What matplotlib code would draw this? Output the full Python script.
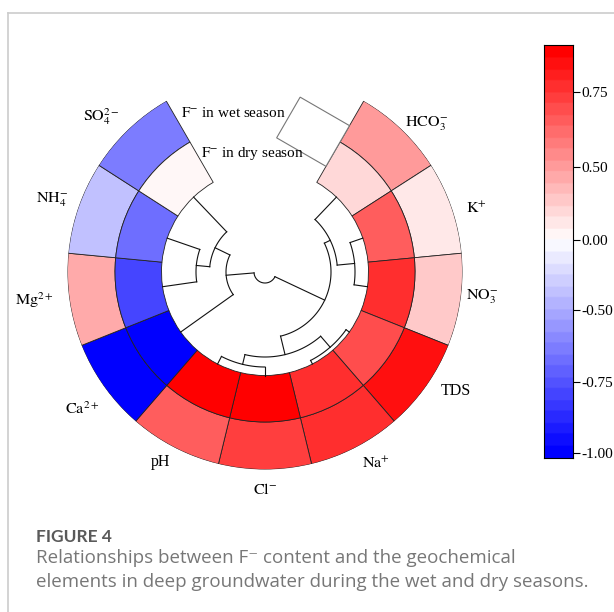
import numpy as np
import matplotlib
matplotlib.use("Agg")
import matplotlib.pyplot as plt
from matplotlib.colors import LinearSegmentedColormap
from matplotlib.patches import Polygon
from matplotlib.lines import Line2D

plt.rcParams['font.family'] = 'Liberation Serif'
plt.rcParams['mathtext.fontset'] = 'stix'

# variables clockwise from the gap at the top
labels = [r'$\mathrm{HCO_3^{-}}$', r'$\mathrm{K^{+}}$', r'$\mathrm{NO_3^{-}}$', 'TDS',
          r'$\mathrm{Na^{+}}$', r'$\mathrm{Cl^{-}}$', 'pH', r'$\mathrm{Ca^{2+}}$',
          r'$\mathrm{Mg^{2+}}$', r'$\mathrm{NH_4^{-}}$', r'$\mathrm{SO_4^{2-}}$']
# correlation with F- (outer ring = wet season, inner ring = dry season)
wet = [0.49, 0.12, 0.29, 0.83, 0.78, 0.73, 0.64, -1.00, 0.40, -0.36, -0.63]
dry = [0.21, 0.65, 0.79, 0.71, 0.78, 0.90, 0.89, -0.98, -0.81, -0.67, 0.00]

# dendrogram merges: (child a, child b, distance); leaves 0..10, new nodes 11..
merges = [(3, 4, 4.0), (5, 6, 8.5), (11, 12, 18.5), (1, 2, 13.5), (0, 14, 31.0),
          (15, 13, 37.5), (9, 8, 34.5), (10, 17, 48.0), (7, 18, 64.5), (19, 16, 92.5)]

# colorbar: tick values and where they sit along the bar (0 = bottom, 1 = top)
cb_ticks = [-1.00, -0.75, -0.50, 0.00, 0.50, 0.75]
cb_vals = [-1.02, -1.00, -0.75, -0.50, 0.00, 0.50, 0.75, 0.905]
cb_pos = [0.0, 0.012, 0.185, 0.358, 0.528, 0.705, 0.887, 1.0]

# where the labels sit (angle clockwise from top, radius in px)
lab_theta = [47.6, 73.5, 96.5, 122.0, 150.0, 180.0, 208.9, 233.0, 263.0, 288.7, 313.6]
lab_r = [219, 221, 219, 225, 222, 218, 217, 229, 232, 225, 226]


def pos(v):
    return np.interp(v, cb_vals, cb_pos)


p0 = float(pos(0.0))
cmap = LinearSegmentedColormap.from_list('bwr_o', [(0, '#0000ff'), (p0, '#ffffff'), (1, '#ff0000')])
cmap = cmap.resampled(36)

fig = plt.figure(figsize=(6.14, 6.12), dpi=100)

# center of the ring at (265, 272) px, outer radius 197.5 px
R_OUT, R_MID, R_IN = 197.5, 150.0, 103.5
ax = fig.add_axes([(265 - R_OUT) / 614, (612 - 272 - R_OUT) / 612, 2 * R_OUT / 614, 2 * R_OUT / 612],
                  projection='polar')
ax.set_theta_zero_location('N')
ax.set_theta_direction(-1)
ax.set_ylim(0, R_OUT)
ax.set_axis_off()

n = len(labels)
gap = 60.0
w = (360 - gap) / n
theta = gap / 2 + w * (np.arange(n) + 0.5)
th = np.deg2rad(theta)

ax.bar(th, R_OUT - R_MID, width=np.deg2rad(w), bottom=R_MID,
       color=cmap(pos(np.array(wet))), edgecolor='#222222', linewidth=0.6)
ax.bar(th, R_MID - R_IN, width=np.deg2rad(w), bottom=R_IN,
       color=cmap(pos(np.array(dry))), edgecolor='#222222', linewidth=0.6)

for t, r, lab in zip(lab_theta, lab_r, labels):
    ax.text(np.deg2rad(t), r, lab, ha='center', va='center', fontsize=11.5)

# dendrogram
node_ang = list(theta)
node_r = [R_IN] * n
for a, b, d in merges:
    rn = R_IN - d
    for c in (a, b):
        ax.plot(np.deg2rad([node_ang[c]] * 2), [node_r[c], rn], color='#111111', lw=0.8)
    arc = np.deg2rad(np.linspace(node_ang[a], node_ang[b], 60))
    ax.plot(arc, np.full(60, rn), color='#111111', lw=0.8)
    node_ang.append((node_ang[a] + node_ang[b]) / 2)
    node_r.append(rn)

# the blank F- cell at the edge of the gap
edge = np.deg2rad(gap / 2)
u = np.array([np.sin(edge), np.cos(edge)])
v = np.array([-np.cos(edge), np.sin(edge)])
corners = [122 * u, 169 * u, 169 * u + 57 * v, 122 * u + 57 * v]
poly_t = [np.arctan2(c[0], c[1]) for c in corners]
poly_r = [np.hypot(c[0], c[1]) for c in corners]
ax.add_patch(Polygon(np.column_stack([poly_t, poly_r]), closed=True, facecolor='white',
                     edgecolor='#777777', lw=0.8))

fig.text(233 / 614, 1 - 113 / 612, r'$\mathrm{F^{-}}$ in wet season', ha='center', va='center', fontsize=11)
fig.text(252 / 614, 1 - 153 / 612, r'$\mathrm{F^{-}}$ in dry season', ha='center', va='center', fontsize=11)

# colorbar
cax = fig.add_axes([544 / 614, 1 - 458 / 612, 29 / 614, 413 / 612])
cax.imshow(np.linspace(0, 1, 200)[:, None], cmap=cmap, origin='lower', extent=[0, 1, 0, 1], aspect='auto')
cax.set_xlim(0, 1)
cax.set_ylim(0, 1)
cax.set_xticks([])
cax.yaxis.tick_right()
cax.set_yticks(pos(np.array(cb_ticks)))
cax.set_yticklabels(['%.2f' % t for t in cb_ticks], fontsize=11)
cax.tick_params(axis='y', length=5, width=0.8, pad=1)
for s in cax.spines.values():
    s.set_linewidth(0.8)

# page frame and caption
fig.add_artist(Line2D([8 / 614, 8 / 614], [0, 1 - 13 / 612], color='#cccccc', lw=1.2))
fig.add_artist(Line2D([8 / 614, 1], [1 - 13 / 612, 1 - 13 / 612], color='#cccccc', lw=1.2))
fig.text(36 / 614, 1 - 537 / 612, 'FIGURE 4', ha='left', va='center', fontsize=12.5,
         fontweight='bold', color='#5a5a5a', family=['Lato', 'DejaVu Sans'])
cap_font = ['Open Sans', 'DejaVu Sans']
fig.text(36 / 614, 1 - 558 / 612, 'Relationships between F\u207b content and the geochemical',
         ha='left', va='center', fontsize=13.5, color='#777777', family=cap_font)
fig.text(36 / 614, 1 - 582 / 612, 'elements in deep groundwater during the wet and dry seasons.',
         ha='left', va='center', fontsize=13.5, color='#777777', family=cap_font)

fig.savefig('out.png', dpi=100)
